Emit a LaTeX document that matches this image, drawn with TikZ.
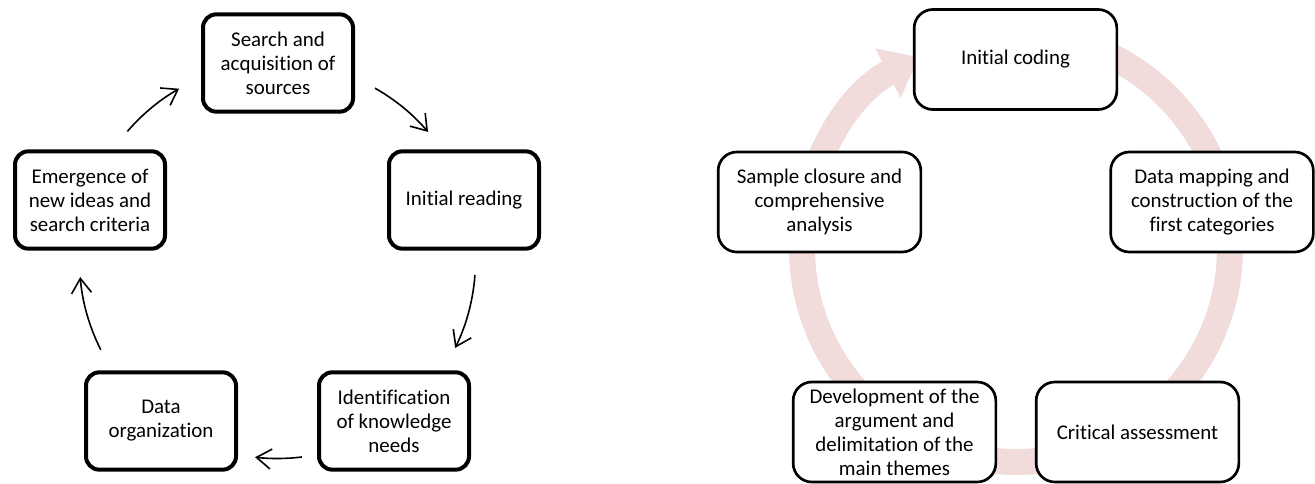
\documentclass[tikz,border=0pt]{standalone}
\usepackage{fontspec}
\setmainfont[Ligatures=NoCommon]{Carlito}
\usetikzlibrary{arrows.meta}
\definecolor{ringpink}{HTML}{F2DCDB}
\begin{document}
\begin{tikzpicture}[x=0.75pt,y=0.75pt,
  txt/.style={align=center, font=\fontsize{15.7pt}{18pt}\selectfont},
  boxL/.style={txt, draw=black, line width=3pt, rounded corners=10pt, fill=white,
    minimum width=112.5pt, minimum height=73pt, inner sep=1pt},
  boxR/.style={txt, draw=black, line width=2pt, rounded corners=14pt, fill=white,
    minimum width=152pt, minimum height=75pt, inner sep=1pt},
  cyc/.style={line width=1.2pt, -{Straight Barb[length=11pt,width=15pt]}},
  ring/.style={line width=19.5pt, draw=ringpink, -{Triangle[length=26pt,width=40pt]}}]
\useasboundingbox (0,0) rectangle (1315,483);

% ---------- left cycle ----------
\coordinate (lc) at (277.5,222.5);
\node[boxL] (search) at (278,420) {Search and\\acquisition of\\sources};
\node[boxL] (read) at (464,283) {Initial reading};
\node[boxL] (ident) at (394,62) {Identification\\of knowledge\\needs};
\node[boxL] (org) at (161,62) {Data\\organization};
\node[boxL] (emerg) at (90,283) {Emergence of\\new ideas and\\search criteria};

\draw[cyc] ([shift={(60.5:148.5pt)}]lc) arc[start angle=60.5, end angle=40.5, radius=148.5pt];
\draw[cyc] ([shift={(-4.2:148.5pt)}]lc) arc[start angle=-4.2, end angle=-26.2, radius=148.5pt];
\draw[cyc] ([shift={(-82.9:148.5pt)}]lc) arc[start angle=-82.9, end angle=-96.5, radius=148.5pt];
\draw[cyc] ([shift={(206.8:148.5pt)}]lc) arc[start angle=206.8, end angle=184.8, radius=148.5pt];
\draw[cyc] ([shift={(139.3:148.5pt)}]lc) arc[start angle=139.3, end angle=119.8, radius=148.5pt];

% ---------- right cycle ----------
\coordinate (rc) at (1016,235);
\draw[ring] ([shift={(90:160.5pt)}]rc) arc[start angle=90, end angle=-243, radius=160.5pt];
\node[boxR] (code) at (1015.5,423.5) {Initial coding};
\node[boxR] (map) at (1212,281) {Data mapping and\\construction of the\\first categories};
\node[boxR] (crit) at (1137.5,51) {Critical assessment};
\node[boxR] (dev) at (894.5,51) {Development of the\\argument and\\delimitation of the\\main themes};
\node[boxR] (sample) at (819.5,281) {Sample closure and\\comprehensive\\analysis};
\end{tikzpicture}
\end{document}
